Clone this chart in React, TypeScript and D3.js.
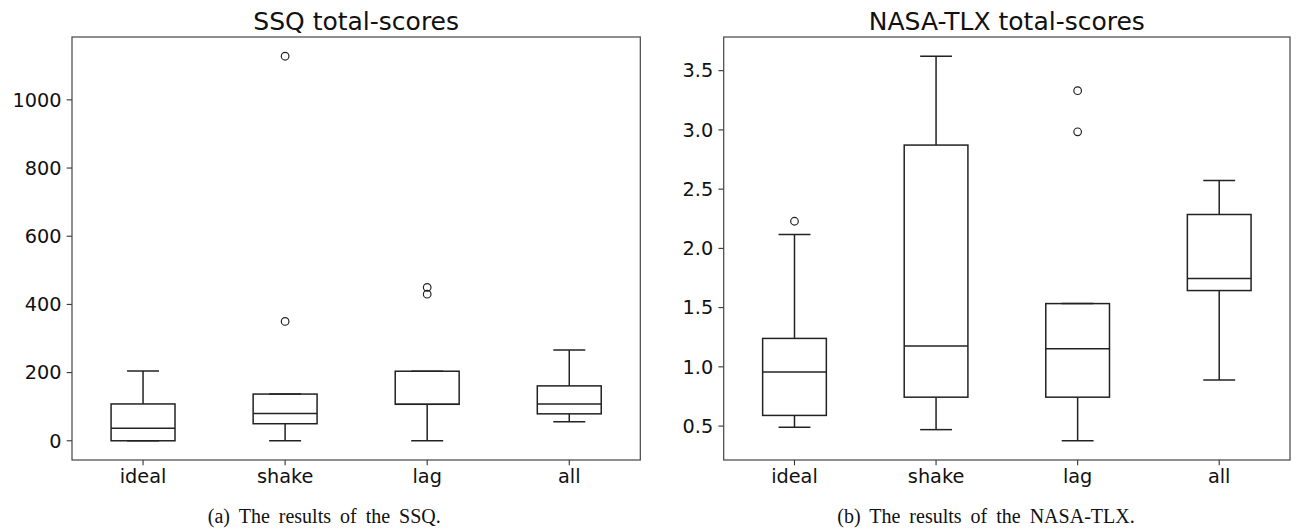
import React from 'react';
import * as d3 from 'd3';

// category labels shared by both panels
const conditions = ['ideal', 'shake', 'lag', 'all'];

// SSQ total-scores: whiskers, quartiles, medians, fliers
const ssqLow = [0, 0, 0, 56];
const ssqQ1 = [0, 50, 107, 79];
const ssqMedian = [37, 80, 107, 108];
const ssqQ3 = [108, 137, 204, 161];
const ssqHigh = [205, 137, 204, 266];
const ssqOutliers = [[], [350, 1128], [430, 450], []];
const ssqTicks = [0, 200, 400, 600, 800, 1000];

// NASA-TLX total-scores
const tlxLow = [0.49, 0.47, 0.376, 0.89];
const tlxQ1 = [0.59, 0.744, 0.744, 1.644];
const tlxMedian = [0.956, 1.175, 1.153, 1.745];
const tlxQ3 = [1.24, 2.872, 1.534, 2.286];
const tlxHigh = [2.117, 3.622, 1.534, 2.573];
const tlxOutliers = [[2.229], [], [3.331, 2.984], []];
const tlxTicks = [0.5, 1.0, 1.5, 2.0, 2.5, 3.0, 3.5];

const W = 1298;
const H = 530;
const TOP = 37;
const BOTTOM = 460;
const LINE = '#222';
const FONT = '"DejaVu Sans", sans-serif';

function BoxPanel(props) {
  const { left, right, title, low, q1, med, q3, high, outliers, ticks, fmt } = props;

  // matplotlib style 5% margin around the data
  const all = low.concat(high, outliers.flat());
  const lo = d3.min(all), hi = d3.max(all);
  const pad = (hi - lo) * 0.05;
  const y = d3.scaleLinear().domain([lo - pad, hi + pad]).range([BOTTOM, TOP]);
  const x = d3.scaleLinear().domain([0.5, conditions.length + 0.5]).range([left, right]);
  const bw = (x(1) - x(0)) * 0.45;
  const cw = bw / 2;

  return (
    <g>
      <text x={(left + right) / 2} y={30} textAnchor="middle" fontFamily={FONT} fontSize={25} fill="#111">{title}</text>
      {ticks.map((t) => (
        <g key={'y' + t}>
          <line x1={left - 5.3} x2={left} y1={y(t)} y2={y(t)} stroke="#333" strokeWidth={1.1} />
          <text x={left - 10.5} y={y(t)} dy="0.35em" textAnchor="end" fontFamily={FONT} fontSize={19.3} fill="#111">{fmt(t)}</text>
        </g>
      ))}
      {conditions.map((c, i) => (
        <g key={'x' + c}>
          <line x1={x(i + 1)} x2={x(i + 1)} y1={BOTTOM} y2={BOTTOM + 5.3} stroke="#333" strokeWidth={1.1} />
          <text x={x(i + 1)} y={483} textAnchor="middle" fontFamily={FONT} fontSize={19.3} fill="#111">{c}</text>
        </g>
      ))}
      {conditions.map((c, i) => {
        const cx = x(i + 1);
        return (
          <g key={'b' + c} stroke={LINE} strokeWidth={1.5} fill="none">
            <line x1={cx} x2={cx} y1={y(q3[i])} y2={y(high[i])} />
            <line x1={cx} x2={cx} y1={y(q1[i])} y2={y(low[i])} />
            <line x1={cx - cw / 2} x2={cx + cw / 2} y1={y(high[i])} y2={y(high[i])} />
            <line x1={cx - cw / 2} x2={cx + cw / 2} y1={y(low[i])} y2={y(low[i])} />
            <rect x={cx - bw / 2} y={y(q3[i])} width={bw} height={y(q1[i]) - y(q3[i])} />
            <line x1={cx - bw / 2} x2={cx + bw / 2} y1={y(med[i])} y2={y(med[i])} />
            {outliers[i].map((v, j) => (
              <circle key={j} cx={cx} cy={y(v)} r={3.8} strokeWidth={1.2} />
            ))}
          </g>
        );
      })}
      <rect x={left} y={TOP} width={right - left} height={BOTTOM - TOP} fill="none" stroke="#444" strokeWidth={1.2} />
    </g>
  );
}

export default function App() {
  return (
    <svg width={W} height={H} style={{ position: 'absolute', left: 0, top: 0, background: '#fff' }}>
      <BoxPanel left={72} right={640.3} title="SSQ total-scores"
        low={ssqLow} q1={ssqQ1} med={ssqMedian} q3={ssqQ3} high={ssqHigh}
        outliers={ssqOutliers} ticks={ssqTicks} fmt={d3.format('d')} />
      <BoxPanel left={723.7} right={1290} title="NASA-TLX total-scores"
        low={tlxLow} q1={tlxQ1} med={tlxMedian} q3={tlxQ3} high={tlxHigh}
        outliers={tlxOutliers} ticks={tlxTicks} fmt={d3.format('.1f')} />
      <text x={324.3} y={523} textAnchor="middle" fontFamily='"Liberation Serif", serif' fontSize={20} wordSpacing={4} fill="#111">(a) The results of the SSQ.</text>
      <text x={986} y={523} textAnchor="middle" fontFamily='"Liberation Serif", serif' fontSize={20} wordSpacing={4} fill="#111">(b) The results of the NASA-TLX.</text>
    </svg>
  );
}
